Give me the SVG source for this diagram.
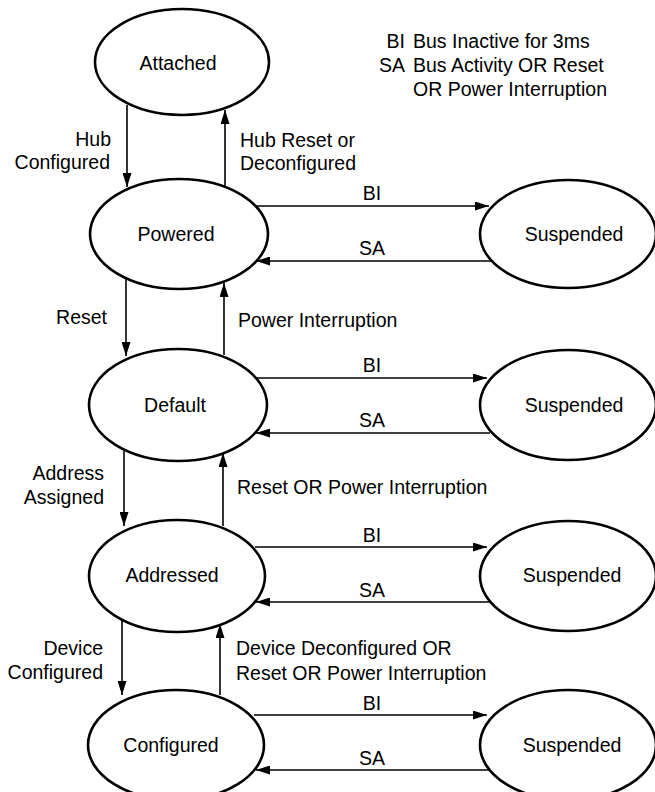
<svg xmlns="http://www.w3.org/2000/svg" width="655" height="792" viewBox="0 0 655 792">
<style>
.n{fill:#fff;stroke:#000;stroke-width:2.6}
.t{font-family:"Liberation Sans",Arial,sans-serif;font-size:19.5px;fill:#000}
.m{text-anchor:middle}
.e{text-anchor:end}
.c{stroke:#000;stroke-width:1.6;fill:none;marker-end:url(#ah)}
</style>
<defs>
<marker id="ah" markerUnits="userSpaceOnUse" markerWidth="15" markerHeight="9" refX="14" refY="4.5" orient="auto">
<path d="M0,0 L14,4.5 L0,9 z" fill="#000"/>
</marker>
</defs>
<rect width="655" height="792" fill="#fff"/>
<g id="connectors">
<line class="c" x1="127" y1="105" x2="127" y2="187"/>
<line class="c" x1="225" y1="187" x2="225" y2="110"/>
<line class="c" x1="256" y1="206" x2="489" y2="206"/>
<line class="c" x1="491" y1="261" x2="256" y2="261"/>
<line class="c" x1="126" y1="278" x2="126" y2="356"/>
<line class="c" x1="224" y1="355" x2="224" y2="283"/>
<line class="c" x1="257" y1="378" x2="487" y2="378"/>
<line class="c" x1="490" y1="433" x2="256" y2="433"/>
<line class="c" x1="124" y1="449" x2="124" y2="526"/>
<line class="c" x1="223" y1="526" x2="223" y2="453"/>
<line class="c" x1="255" y1="547" x2="487" y2="547"/>
<line class="c" x1="490" y1="602" x2="256" y2="602"/>
<line class="c" x1="122" y1="619" x2="122" y2="695"/>
<line class="c" x1="220" y1="695" x2="220" y2="624"/>
<line class="c" x1="254" y1="715" x2="487" y2="715"/>
<line class="c" x1="489" y1="770" x2="256" y2="770"/>
<text class="t e" x="111" y="146">Hub</text>
<text class="t e" x="110" y="169">Configured</text>
<text class="t" x="240" y="147">Hub Reset or</text>
<text class="t" x="240" y="170">Deconfigured</text>
<text class="t m" x="372" y="200">BI</text>
<text class="t m" x="372" y="255">SA</text>
<text class="t e" x="107" y="324">Reset</text>
<text class="t" x="238" y="327">Power Interruption</text>
<text class="t m" x="372" y="372">BI</text>
<text class="t m" x="372" y="427">SA</text>
<text class="t e" x="104" y="480">Address</text>
<text class="t e" x="104" y="504">Assigned</text>
<text class="t" x="237" y="494">Reset OR Power Interruption</text>
<text class="t m" x="372" y="542">BI</text>
<text class="t m" x="372" y="597">SA</text>
<text class="t e" x="103" y="655">Device</text>
<text class="t e" x="103" y="679">Configured</text>
<text class="t" x="236" y="655">Device Deconfigured OR</text>
<text class="t" x="236" y="680">Reset OR Power Interruption</text>
<text class="t m" x="372" y="710">BI</text>
<text class="t m" x="372" y="765">SA</text>
</g>
<g id="attached"><ellipse class="n" cx="182" cy="62" rx="87" ry="53"/><text class="t m" x="178" y="70">Attached</text></g>
<g id="powered"><ellipse class="n" cx="179" cy="234" rx="89" ry="55"/><text class="t m" x="176" y="241">Powered</text></g>
<g id="default"><ellipse class="n" cx="178" cy="405" rx="89" ry="56"/><text class="t m" x="175" y="412">Default</text></g>
<g id="addressed"><ellipse class="n" cx="177" cy="576" rx="88" ry="56"/><text class="t m" x="172" y="582">Addressed</text></g>
<g id="configured"><ellipse class="n" cx="176" cy="745" rx="88" ry="55"/><text class="t m" x="171" y="752">Configured</text></g>
<g id="suspended1"><ellipse class="n" cx="568" cy="234" rx="88" ry="54"/><text class="t m" x="574" y="241">Suspended</text></g>
<g id="suspended2"><ellipse class="n" cx="568" cy="405" rx="88" ry="55"/><text class="t m" x="574" y="412">Suspended</text></g>
<g id="suspended3"><ellipse class="n" cx="568" cy="576" rx="88" ry="55"/><text class="t m" x="572" y="582">Suspended</text></g>
<g id="suspended4"><ellipse class="n" cx="568" cy="745" rx="88" ry="55"/><text class="t m" x="572" y="752">Suspended</text></g>
<g id="legend">
<text class="t e" x="405" y="48">BI</text>
<text class="t" x="413" y="48">Bus Inactive for 3ms</text>
<text class="t e" x="405" y="72">SA</text>
<text class="t" x="413" y="72">Bus Activity OR Reset</text>
<text class="t" x="413" y="96">OR Power Interruption</text>
</g>
</svg>
